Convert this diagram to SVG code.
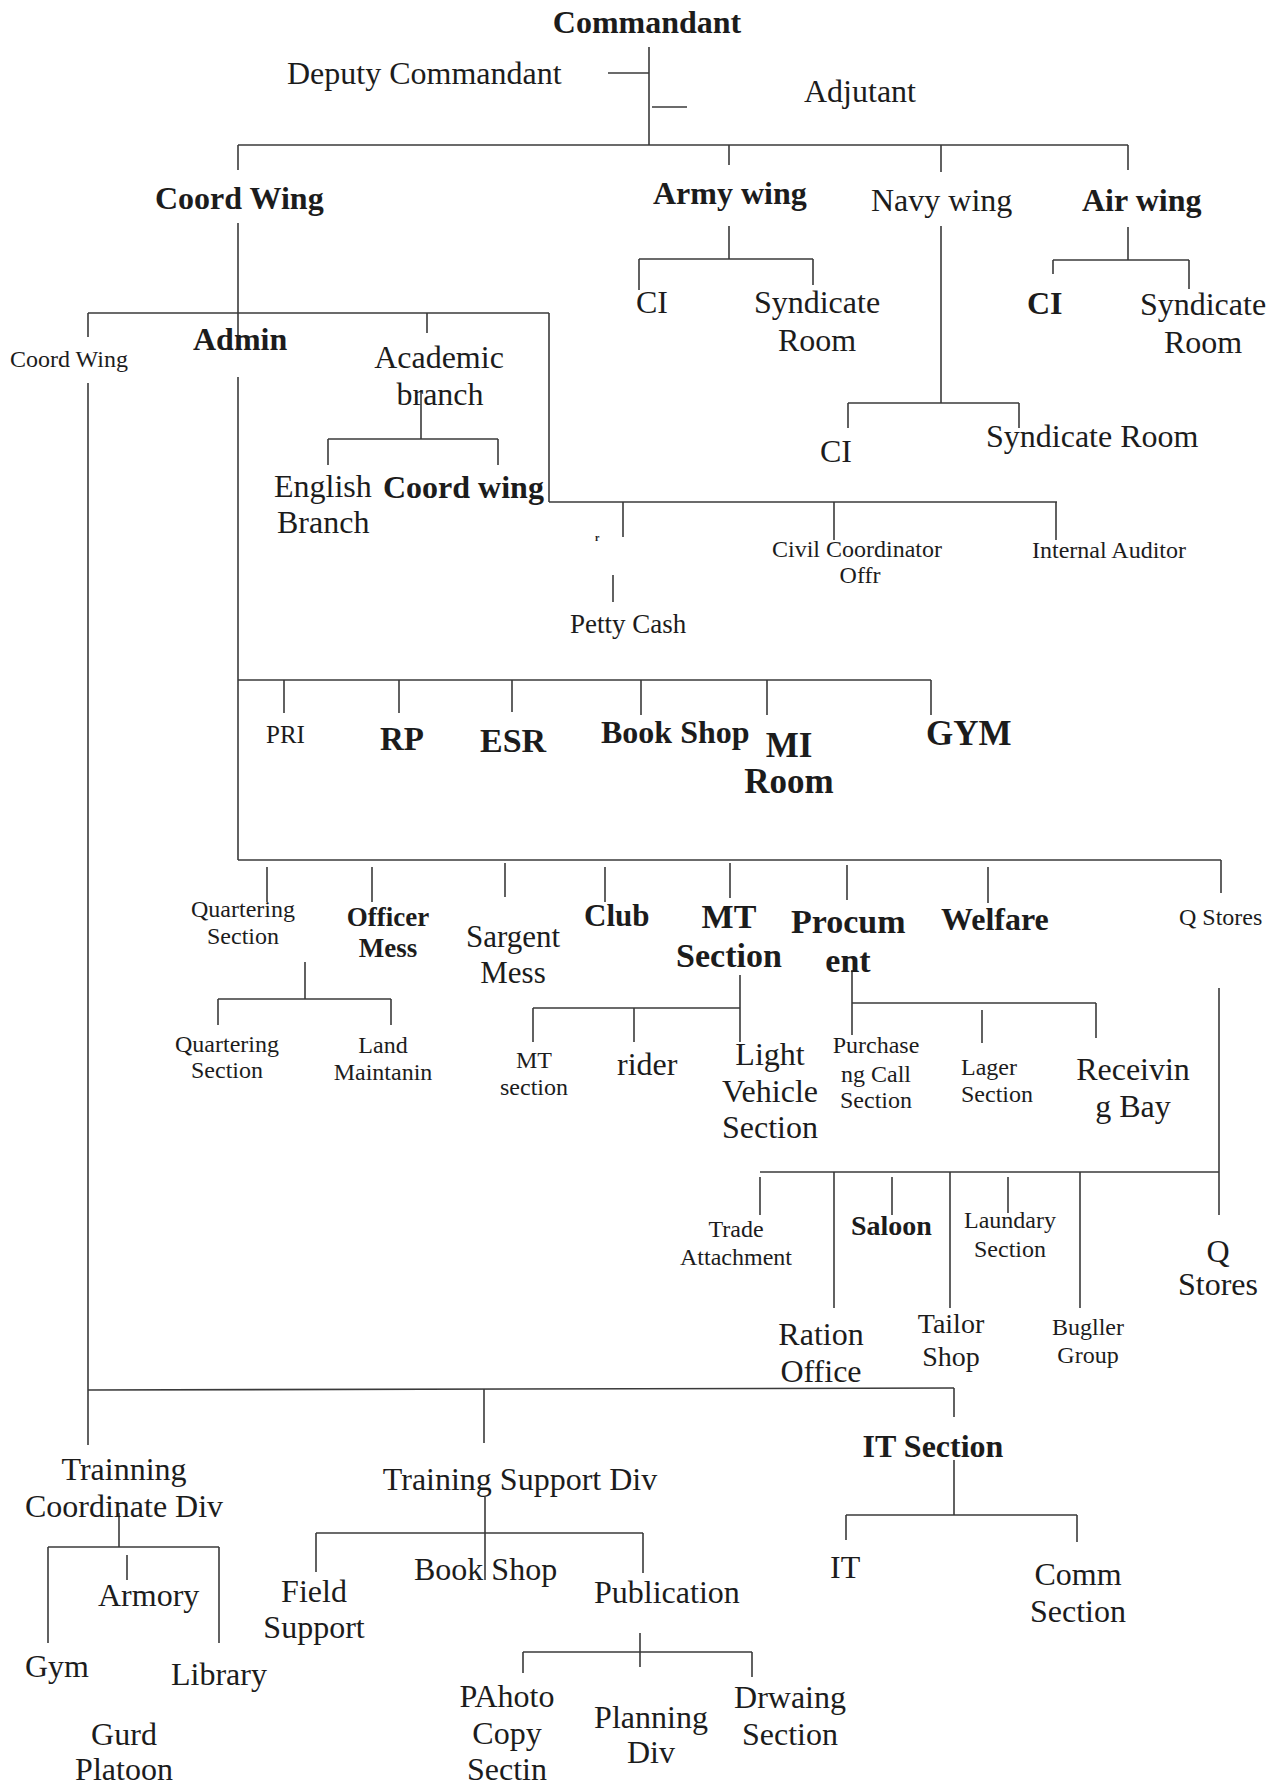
<svg xmlns="http://www.w3.org/2000/svg" width="1268" height="1788" viewBox="0 0 1268 1788">
<style>
text{font-family:"Liberation Serif","Times New Roman",serif;fill:#1c1c1c;font-size:32px}
.b{font-weight:bold}
.s{font-size:24px}
.c{text-anchor:middle}
#connectors line{stroke:#3a3a3a;stroke-width:1.6;fill:none}
</style>
<rect width="1268" height="1788" fill="#ffffff"/>
<g id="connectors">
<line x1="649" y1="47" x2="649" y2="145"/>
<line x1="608" y1="73" x2="649" y2="73"/>
<line x1="652" y1="107" x2="687" y2="107"/>
<line x1="238" y1="145" x2="1128" y2="145"/>
<line x1="238" y1="145" x2="238" y2="170"/>
<line x1="729" y1="145" x2="729" y2="165"/>
<line x1="941" y1="145" x2="941" y2="172"/>
<line x1="1128" y1="145" x2="1128" y2="170"/>
<line x1="729" y1="226" x2="729" y2="259"/>
<line x1="639" y1="259" x2="813" y2="259"/>
<line x1="639" y1="259" x2="639" y2="290"/>
<line x1="813" y1="259" x2="813" y2="285"/>
<line x1="1128" y1="227" x2="1128" y2="260"/>
<line x1="1053" y1="260" x2="1189" y2="260"/>
<line x1="1053" y1="260" x2="1053" y2="274"/>
<line x1="1189" y1="260" x2="1189" y2="289"/>
<line x1="941" y1="226" x2="941" y2="403"/>
<line x1="848" y1="403" x2="1019" y2="403"/>
<line x1="848" y1="403" x2="848" y2="428"/>
<line x1="1019" y1="403" x2="1019" y2="428"/>
<line x1="238" y1="223" x2="238" y2="345"/>
<line x1="88" y1="313" x2="549" y2="313"/>
<line x1="88" y1="313" x2="88" y2="337"/>
<line x1="427" y1="313" x2="427" y2="333"/>
<line x1="549" y1="313" x2="549" y2="502"/>
<line x1="549" y1="502" x2="1057" y2="502"/>
<line x1="88" y1="383" x2="88" y2="1445"/>
<line x1="238" y1="377" x2="238" y2="860"/>
<line x1="421" y1="390" x2="421" y2="439"/>
<line x1="328" y1="439" x2="498" y2="439"/>
<line x1="328" y1="439" x2="328" y2="465"/>
<line x1="498" y1="439" x2="498" y2="465"/>
<line x1="623" y1="502" x2="623" y2="537"/>
<line x1="613" y1="575" x2="613" y2="602"/>
<line x1="834" y1="502" x2="834" y2="540"/>
<line x1="1056" y1="502" x2="1056" y2="540"/>
<line x1="238" y1="680" x2="931" y2="680"/>
<line x1="284" y1="680" x2="284" y2="713"/>
<line x1="399" y1="680" x2="399" y2="713"/>
<line x1="512" y1="680" x2="512" y2="712"/>
<line x1="641" y1="680" x2="641" y2="715"/>
<line x1="767" y1="680" x2="767" y2="715"/>
<line x1="931" y1="680" x2="931" y2="715"/>
<line x1="238" y1="860" x2="1221" y2="860"/>
<line x1="267" y1="867" x2="267" y2="902"/>
<line x1="372" y1="867" x2="372" y2="902"/>
<line x1="505" y1="863" x2="505" y2="897"/>
<line x1="605" y1="867" x2="605" y2="902"/>
<line x1="730" y1="863" x2="730" y2="898"/>
<line x1="847" y1="865" x2="847" y2="900"/>
<line x1="988" y1="867" x2="988" y2="903"/>
<line x1="1221" y1="860" x2="1221" y2="893"/>
<line x1="305" y1="962" x2="305" y2="999"/>
<line x1="218" y1="999" x2="391" y2="999"/>
<line x1="218" y1="999" x2="218" y2="1025"/>
<line x1="391" y1="999" x2="391" y2="1025"/>
<line x1="740" y1="975" x2="740" y2="1042"/>
<line x1="533" y1="1008" x2="740" y2="1008"/>
<line x1="533" y1="1008" x2="533" y2="1042"/>
<line x1="634" y1="1008" x2="634" y2="1042"/>
<line x1="852" y1="970" x2="852" y2="1035"/>
<line x1="852" y1="1003" x2="1096" y2="1003"/>
<line x1="982" y1="1010" x2="982" y2="1043"/>
<line x1="1096" y1="1003" x2="1096" y2="1038"/>
<line x1="1219" y1="988" x2="1219" y2="1215"/>
<line x1="760" y1="1172" x2="1219" y2="1172"/>
<line x1="760" y1="1177" x2="760" y2="1215"/>
<line x1="834" y1="1172" x2="834" y2="1308"/>
<line x1="892" y1="1177" x2="892" y2="1215"/>
<line x1="950" y1="1172" x2="950" y2="1308"/>
<line x1="1008" y1="1177" x2="1008" y2="1213"/>
<line x1="1080" y1="1172" x2="1080" y2="1308"/>
<line x1="88" y1="1390" x2="954" y2="1388"/>
<line x1="954" y1="1388" x2="954" y2="1417"/>
<line x1="484" y1="1389" x2="484" y2="1443"/>
<line x1="954" y1="1460" x2="954" y2="1515"/>
<line x1="846" y1="1515" x2="1077" y2="1515"/>
<line x1="846" y1="1515" x2="846" y2="1540"/>
<line x1="1077" y1="1515" x2="1077" y2="1542"/>
<line x1="119" y1="1513" x2="119" y2="1547"/>
<line x1="48" y1="1547" x2="219" y2="1547"/>
<line x1="48" y1="1547" x2="48" y2="1643"/>
<line x1="219" y1="1547" x2="219" y2="1643"/>
<line x1="127" y1="1555" x2="127" y2="1580"/>
<line x1="485" y1="1497" x2="485" y2="1580"/>
<line x1="316" y1="1533" x2="643" y2="1533"/>
<line x1="316" y1="1533" x2="316" y2="1572"/>
<line x1="643" y1="1533" x2="643" y2="1573"/>
<line x1="640" y1="1633" x2="640" y2="1667"/>
<line x1="523" y1="1652" x2="752" y2="1652"/>
<line x1="523" y1="1652" x2="523" y2="1673"/>
<line x1="752" y1="1652" x2="752" y2="1677"/>
</g>
<g id="n-commandant"><text class="b c" x="647" y="33">Commandant</text></g>
<g id="n-deputy"><text x="287" y="84">Deputy Commandant</text></g>
<g id="n-adjutant"><text x="804" y="102">Adjutant</text></g>
<g id="n-coordwing"><text class="b" x="155" y="209">Coord Wing</text></g>
<g id="n-army"><text class="b" x="653" y="204">Army wing</text></g>
<g id="n-navy"><text x="871" y="211">Navy wing</text></g>
<g id="n-air"><text class="b" x="1082" y="211">Air wing</text></g>
<g id="n-army-ci"><text x="636" y="313">CI</text></g>
<g id="n-army-syn"><text class="c" x="817" y="313">Syndicate</text><text class="c" x="817" y="351">Room</text></g>
<g id="n-air-ci"><text class="b" x="1027" y="314">CI</text></g>
<g id="n-air-syn"><text class="c" x="1203" y="315">Syndicate</text><text class="c" x="1203" y="353">Room</text></g>
<g id="n-navy-ci"><text x="820" y="462">CI</text></g>
<g id="n-navy-syn"><text x="986" y="447">Syndicate Room</text></g>
<g id="n-coordwing2"><text class="s" x="10" y="367">Coord Wing</text></g>
<g id="n-admin"><text class="b" x="193" y="350">Admin</text></g>
<g id="n-academic"><text class="c" x="439" y="368">Academic</text><text class="c" x="440" y="405">branch</text></g>
<g id="n-english"><text x="274" y="497">English</text><text x="277" y="533">Branch</text></g>
<g id="n-coordwing3"><text class="b" x="383" y="498">Coord wing</text></g>
<g id="n-mark"><text class="b" x="595" y="541" style="font-size:10px">r</text></g>
<g id="n-petty"><text x="570" y="633" style="font-size:27px">Petty Cash</text></g>
<g id="n-civil"><text class="s c" x="857" y="557">Civil Coordinator</text><text class="s c" x="860" y="583">Offr</text></g>
<g id="n-auditor"><text class="s" x="1032" y="558">Internal Auditor</text></g>
<g id="n-pri"><text x="266" y="743" style="font-size:25px">PRI</text></g>
<g id="n-rp"><text class="b" x="380" y="750" style="font-size:33px">RP</text></g>
<g id="n-esr"><text class="b" x="480" y="752" style="font-size:34px">ESR</text></g>
<g id="n-bookshop"><text class="b" x="601" y="743">Book Shop</text></g>
<g id="n-mi"><text class="b c" x="789" y="757" style="font-size:35px">MI</text><text class="b c" x="789" y="793" style="font-size:35px">Room</text></g>
<g id="n-gym"><text class="b" x="926" y="745" style="font-size:35px">GYM</text></g>
<g id="n-quartering"><text class="s c" x="243" y="917">Quartering</text><text class="s c" x="243" y="944">Section</text></g>
<g id="n-officer"><text class="b c" x="388" y="926" style="font-size:27px">Officer</text><text class="b c" x="388" y="957" style="font-size:27px">Mess</text></g>
<g id="n-sargent"><text class="c" x="513" y="947" style="font-size:31px">Sargent</text><text class="c" x="513" y="983" style="font-size:31px">Mess</text></g>
<g id="n-club"><text class="b" x="584" y="926" style="font-size:31px">Club</text></g>
<g id="n-mt"><text class="b c" x="729" y="928" style="font-size:34px">MT</text><text class="b c" x="729" y="967" style="font-size:34px">Section</text></g>
<g id="n-procum"><text class="b" x="791" y="933" style="font-size:34px">Procum</text><text class="b c" x="848" y="972" style="font-size:34px">ent</text></g>
<g id="n-welfare"><text class="b" x="941" y="930">Welfare</text></g>
<g id="n-qstores"><text class="s" x="1179" y="925">Q Stores</text></g>
<g id="n-quartering2"><text class="s c" x="227" y="1052">Quartering</text><text class="s c" x="227" y="1078">Section</text></g>
<g id="n-land"><text class="s c" x="383" y="1053">Land</text><text class="s c" x="383" y="1080">Maintanin</text></g>
<g id="n-mtsection"><text class="s c" x="534" y="1068">MT</text><text class="s c" x="534" y="1095">section</text></g>
<g id="n-rider"><text x="617" y="1075">rider</text></g>
<g id="n-light"><text class="c" x="770" y="1065">Light</text><text class="c" x="770" y="1102">Vehicle</text><text class="c" x="770" y="1138">Section</text></g>
<g id="n-purchase"><text class="s c" x="876" y="1053">Purchase</text><text class="s c" x="876" y="1082">ng Call</text><text class="s c" x="876" y="1108">Section</text></g>
<g id="n-lager"><text class="s" x="961" y="1075">Lager</text><text class="s" x="961" y="1102">Section</text></g>
<g id="n-receiving"><text class="c" x="1133" y="1080">Receivin</text><text class="c" x="1133" y="1117">g Bay</text></g>
<g id="n-trade"><text class="s c" x="736" y="1237">Trade</text><text class="s c" x="736" y="1265">Attachment</text></g>
<g id="n-saloon"><text class="b" x="851" y="1235" style="font-size:28px">Saloon</text></g>
<g id="n-laundary"><text class="s c" x="1010" y="1228">Laundary</text><text class="s c" x="1010" y="1257">Section</text></g>
<g id="n-qstores2"><text class="c" x="1218" y="1262">Q</text><text class="c" x="1218" y="1295">Stores</text></g>
<g id="n-ration"><text class="c" x="821" y="1345">Ration</text><text class="c" x="821" y="1382">Office</text></g>
<g id="n-tailor"><text class="c" x="951" y="1333" style="font-size:28px">Tailor</text><text class="c" x="951" y="1366" style="font-size:28px">Shop</text></g>
<g id="n-bugller"><text class="s c" x="1088" y="1335">Bugller</text><text class="s c" x="1088" y="1363">Group</text></g>
<g id="n-trainning"><text class="c" x="124" y="1480">Trainning</text><text class="c" x="124" y="1517">Coordinate Div</text></g>
<g id="n-tsd"><text class="c" x="520" y="1490">Training Support Div</text></g>
<g id="n-itsection"><text class="b c" x="933" y="1457">IT Section</text></g>
<g id="n-it"><text x="830" y="1578">IT</text></g>
<g id="n-comm"><text class="c" x="1078" y="1585">Comm</text><text class="c" x="1078" y="1622">Section</text></g>
<g id="n-armory"><text x="98" y="1606">Armory</text></g>
<g id="n-gym2"><text x="25" y="1677">Gym</text></g>
<g id="n-library"><text x="171" y="1685">Library</text></g>
<g id="n-gurd"><text class="c" x="124" y="1745">Gurd</text><text class="c" x="124" y="1780">Platoon</text></g>
<g id="n-field"><text class="c" x="314" y="1602">Field</text><text class="c" x="314" y="1638">Support</text></g>
<g id="n-bookshop2"><text x="414" y="1580">Book Shop</text></g>
<g id="n-publication"><text x="594" y="1603">Publication</text></g>
<g id="n-photo"><text class="c" x="507" y="1707">PAhoto</text><text class="c" x="507" y="1744">Copy</text><text class="c" x="507" y="1780">Sectin</text></g>
<g id="n-planning"><text class="c" x="651" y="1728">Planning</text><text class="c" x="651" y="1763">Div</text></g>
<g id="n-drwaing"><text class="c" x="790" y="1708">Drwaing</text><text class="c" x="790" y="1745">Section</text></g>
</svg>
